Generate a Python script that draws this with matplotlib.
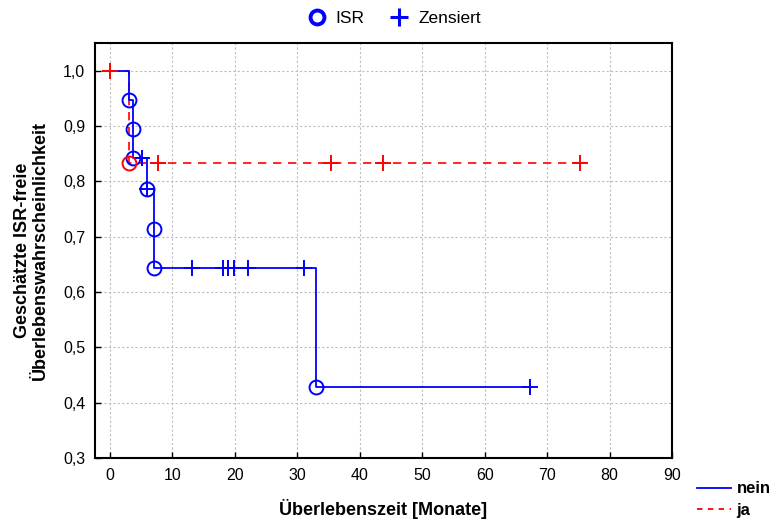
import matplotlib
matplotlib.use("Agg")
import matplotlib.pyplot as plt
import numpy as np
from matplotlib.lines import Line2D
from matplotlib.ticker import FuncFormatter

plt.rcParams["font.family"] = ["Liberation Sans", "DejaVu Sans"]

# Kaplan-Meier estimates, group "nein"
nein_event_t = [3.1, 3.7, 3.7, 6.0, 7.1, 7.1, 33.0]
nein_event_s = [0.947, 0.895, 0.842, 0.786, 0.714, 0.643, 0.429]
nein_cens_t = [5.1, 6.0, 13.1, 18.1, 18.9, 19.9, 22.1, 31.1, 67.3]

# group "ja"
ja_event_t = [3.1]
ja_event_s = [0.833]
ja_cens_t = [0.0, 7.7, 35.4, 43.8, 75.3]

x_ticks = [0, 10, 20, 30, 40, 50, 60, 70, 80, 90]
y_ticks = [0.3, 0.4, 0.5, 0.6, 0.7, 0.8, 0.9, 1.0]


def step_curve(ev_t, ev_s, end_t):
    xs = [0.0] + list(ev_t) + [end_t]
    ys = [1.0] + list(ev_s) + [ev_s[-1]]
    return xs, ys


def surv_at(ev_t, ev_s, t):
    idx = np.searchsorted(ev_t, t, side="right")
    return ([1.0] + list(ev_s))[idx]


fig = plt.figure(figsize=(7.73, 5.25), dpi=100)
ax = fig.add_axes([0.1229, 0.1276, 0.7464, 0.7904])

blue = "#0000ff"
red = "#ff0000"

xs, ys = step_curve(ja_event_t, ja_event_s, max(ja_cens_t))
ax.step(xs, ys, where="post", color=red, lw=1.2, ls=(0, (5, 4)), zorder=3)
xs, ys = step_curve(nein_event_t, nein_event_s, max(nein_cens_t))
ax.step(xs, ys, where="post", color=blue, lw=1.3, zorder=4)

ax.plot(nein_event_t, nein_event_s, "o", ms=10, mfc="none", mec=blue, mew=1.4, zorder=5)
ax.plot(nein_cens_t, [surv_at(nein_event_t, nein_event_s, t) for t in nein_cens_t],
        "+", ms=11, mec=blue, mew=1.4, zorder=5)
ax.plot(ja_event_t, ja_event_s, "o", ms=10, mfc="none", mec=red, mew=1.4, zorder=6)
ax.plot(ja_cens_t, [surv_at(ja_event_t, ja_event_s, t) for t in ja_cens_t],
        "+", ms=11, mec=red, mew=1.4, zorder=6)

ax.set_xlim(-2.4, 90)
ax.set_ylim(0.3, 1.05)
ax.set_xticks(x_ticks)
ax.set_yticks(y_ticks)
ax.yaxis.set_major_formatter(FuncFormatter(lambda v, p: f"{v:.1f}".replace(".", ",")))
ax.tick_params(direction="in", length=4, width=1, labelsize=11.5, pad=7)
ax.grid(True, color="#bdbdbd", ls=(0, (2, 2)), lw=0.8)
ax.set_axisbelow(True)
for sp in ax.spines.values():
    sp.set_linewidth(1.5)

ax.set_xlabel("Überlebenszeit [Monate]", fontsize=13, fontweight="bold", labelpad=12)
ax.set_ylabel("Geschätzte ISR-freie\nÜberlebenswahrscheinlichkeit", fontsize=13,
              fontweight="bold", labelpad=10, linespacing=1.1)

top_handles = [
    Line2D([], [], ls="none", marker="o", ms=10, mfc="none", mec=blue, mew=2.8),
    Line2D([], [], ls="none", marker="+", ms=13, mec=blue, mew=2.2),
]
fig.legend(top_handles, ["ISR", "Zensiert"], loc="center", ncol=2,
           bbox_to_anchor=(0.507, 0.965), frameon=False, fontsize=12.5,
           handletextpad=0.3, columnspacing=1.2, handlelength=1.6)

bot_handles = [
    Line2D([], [], color=blue, lw=1.3),
    Line2D([], [], color=red, lw=1.3, ls=(0, (3, 3))),
]
fig.legend(bot_handles, ["nein", "ja"], loc="center left",
           bbox_to_anchor=(0.902, 0.048), frameon=False,
           prop={"size": 12, "weight": "bold"}, handlelength=2.0,
           labelspacing=0.4, handletextpad=0.35, borderpad=0, borderaxespad=0)

fig.savefig("out.png", dpi=100)
